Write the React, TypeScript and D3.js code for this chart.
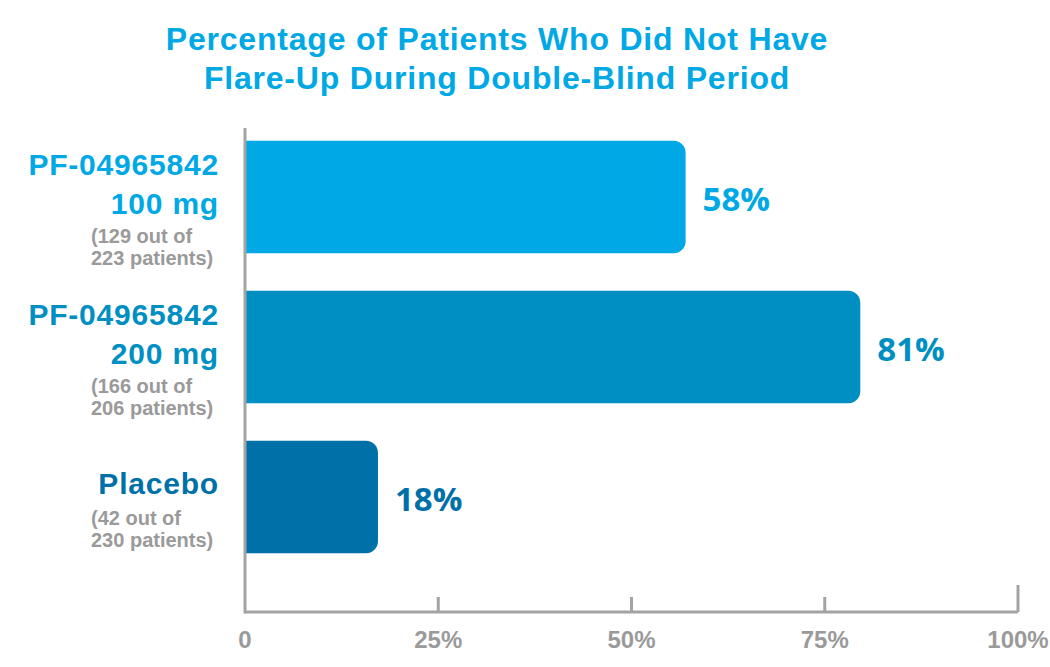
import React from "react";
import * as d3 from "d3";

const titleLines = ["Percentage of Patients Who Did Not Have", "Flare-Up During Double-Blind Period"];
const categories = ["PF-04965842 100 mg", "PF-04965842 200 mg", "Placebo"];
const nameLines = [["PF-04965842", "100 mg"], ["PF-04965842", "200 mg"], ["Placebo"]];
const countLines = [["(129 out of", "223 patients)"], ["(166 out of", "206 patients)"], ["(42 out of", "230 patients)"]];
const barValues = [57, 79.6, 17.2];
const valueLabels = ["58%", "81%", "18%"];
const colors = ["#00a8e6", "#008fc2", "#0070a8"];
const tickValues = [0, 25, 50, 75, 100];
const tickLabels = ["0", "25%", "50%", "75%", "100%"];

const W = 1050, H = 667;
const axisColor = "#a3a3a3";

export default function App() {
  const x = d3.scaleLinear().domain([0, 100]).range([245, 1018]);
  const y = d3.scaleBand().domain(categories).range([122, 572]).paddingInner(0.25).paddingOuter(0.125);
  const baseY = 612;
  const r = 12;

  const barPath = (v: number, y0: number, h: number) => {
    const x0 = x(0), x1 = x(v);
    const p = d3.path();
    p.moveTo(x0, y0);
    p.lineTo(x1 - r, y0);
    p.arcTo(x1, y0, x1, y0 + r, r);
    p.lineTo(x1, y0 + h - r);
    p.arcTo(x1, y0 + h, x1 - r, y0 + h, r);
    p.lineTo(x0, y0 + h);
    p.closePath();
    return p.toString();
  };

  return (
    <svg width={W} height={H} style={{ position: "absolute", left: 0, top: 0, background: "#fff" }}>
      {titleLines.map((t, i) => (
        <text key={i} x={497} y={50 + i * 39} textAnchor="middle" fill="#00a8e6"
          style={{ font: "bold 32px 'Liberation Sans', Arial, sans-serif", letterSpacing: "0.8px" }}>{t}</text>
      ))}
      {categories.map((c, i) => {
        const y0 = y(c)!;
        const h = y.bandwidth();
        const cy = y0 + h / 2;
        const names = nameLines[i];
        const nameStart = names.length === 2 ? cy - 22 : cy - 3;
        const countStart = names.length === 2 ? cy + 46 : cy + 28;
        return (
          <g key={c}>
            <path d={barPath(barValues[i], y0, h)} fill={colors[i]} />
            <text x={x(barValues[i]) + 17} y={cy + 14} fill={colors[i]}
              style={{ font: "bold 33px 'Open Sans', sans-serif" }}>{valueLabels[i]}</text>
            {names.map((n, j) => (
              <text key={j} x={219} y={nameStart + j * 39} textAnchor="end" fill={colors[i]}
                style={{ font: "bold 30px 'Liberation Sans', Arial, sans-serif", letterSpacing: "0.8px" }}>{n}</text>
            ))}
            {countLines[i].map((n, j) => (
              <text key={j} x={91} y={countStart + j * 22} fill="#9a9a9a"
                style={{ font: "bold 20px 'Liberation Sans', Arial, sans-serif" }}>{n}</text>
            ))}
          </g>
        );
      })}
      <line x1={x(0)} x2={x(0)} y1={128} y2={baseY + 1.5} stroke={axisColor} strokeWidth={3} />
      <line x1={x(0)} x2={x(100)} y1={baseY} y2={baseY} stroke={axisColor} strokeWidth={3} />
      {tickValues.map((t, i) => (
        <g key={t}>
          {t > 0 && (
            <line x1={x(t)} x2={x(t)} y1={t === 100 ? 585 : 597} y2={baseY} stroke={axisColor} strokeWidth={3} />
          )}
          <text x={x(t)} y={648} textAnchor="middle" fill="#9a9a9a"
            style={{ font: "bold 24px 'Liberation Sans', Arial, sans-serif" }}>{tickLabels[i]}</text>
        </g>
      ))}
    </svg>
  );
}
